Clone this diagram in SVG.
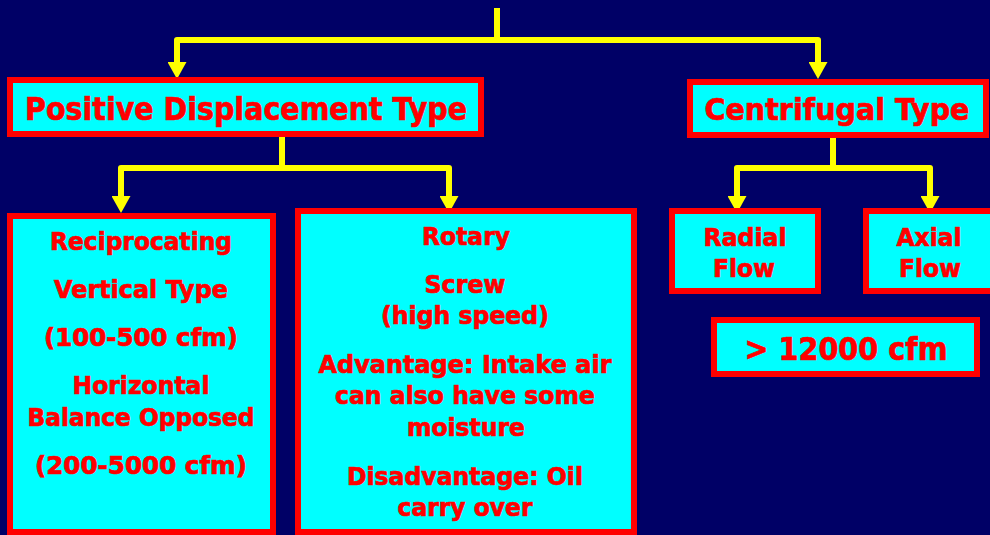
<svg xmlns="http://www.w3.org/2000/svg" width="990" height="535" viewBox="0 0 990 535">
<style>
.box{fill:#00FFFF;stroke:#FF0000;stroke-width:6}
.t{font-family:"DejaVu Sans","Liberation Sans",sans-serif;font-weight:bold;fill:#FF0000;stroke:#FF0000;stroke-width:0.7;text-anchor:middle}
.big{font-size:32px}
.sm{font-size:24.5px}
.c{fill:none;stroke:#FFFF00;stroke-width:6;stroke-linejoin:round}
</style>
<defs>
<marker id="ah" viewBox="0 0 17 19" refX="0" refY="9.5" markerWidth="17" markerHeight="19" markerUnits="userSpaceOnUse" orient="auto">
<path d="M0,0 L17,9.5 L0,19 z" fill="#FFFF00"/>
</marker>
</defs>
<rect width="990" height="535" fill="#000066"/>
<g id="connectors">
<path class="c" d="M497,8 V40 H177 V62" marker-end="url(#ah)"/>
<path class="c" d="M497,40 H818 V62" marker-end="url(#ah)"/>
<path class="c" d="M282,137 V168 H121 V196" marker-end="url(#ah)"/>
<path class="c" d="M282,168 H449 V196" marker-end="url(#ah)"/>
<path class="c" d="M833,138 V168 H737 V196" marker-end="url(#ah)"/>
<path class="c" d="M833,168 H930 V196" marker-end="url(#ah)"/>
</g>
<g id="positive-displacement">
<rect class="box" x="10" y="80" width="471" height="54"/>
<text class="t big" x="246" y="120" textLength="442" lengthAdjust="spacingAndGlyphs">Positive Displacement Type</text>
</g>
<g id="centrifugal">
<rect class="box" x="690" y="82" width="296" height="53"/>
<text class="t" x="837" y="120" font-size="30.5" textLength="265" lengthAdjust="spacingAndGlyphs">Centrifugal Type</text>
</g>
<g id="reciprocating">
<rect class="box" x="10" y="216" width="263" height="316"/>
<text class="t sm" x="141" y="250" textLength="182" lengthAdjust="spacingAndGlyphs">Reciprocating</text>
<text class="t sm" x="141" y="298" textLength="174" lengthAdjust="spacingAndGlyphs">Vertical Type</text>
<text class="t sm" x="141" y="346" textLength="194" lengthAdjust="spacingAndGlyphs">(100-500 cfm)</text>
<text class="t sm" x="141" y="394" textLength="137" lengthAdjust="spacingAndGlyphs">Horizontal</text>
<text class="t sm" x="141" y="426" textLength="227" lengthAdjust="spacingAndGlyphs">Balance Opposed</text>
<text class="t sm" x="141" y="474" textLength="212" lengthAdjust="spacingAndGlyphs">(200-5000 cfm)</text>
</g>
<g id="rotary">
<rect class="box" x="298" y="211" width="336" height="321"/>
<text class="t sm" x="466" y="245" textLength="88" lengthAdjust="spacingAndGlyphs">Rotary</text>
<text class="t sm" x="465" y="293" textLength="81" lengthAdjust="spacingAndGlyphs">Screw</text>
<text class="t sm" x="465" y="324" textLength="168" lengthAdjust="spacingAndGlyphs">(high speed)</text>
<text class="t sm" x="465" y="373" textLength="293" lengthAdjust="spacingAndGlyphs">Advantage: Intake air</text>
<text class="t sm" x="465" y="404" textLength="260" lengthAdjust="spacingAndGlyphs">can also have some</text>
<text class="t sm" x="466" y="436" textLength="118" lengthAdjust="spacingAndGlyphs">moisture</text>
<text class="t sm" x="465" y="485" textLength="236" lengthAdjust="spacingAndGlyphs">Disadvantage: Oil</text>
<text class="t sm" x="465" y="516" textLength="135" lengthAdjust="spacingAndGlyphs">carry over</text>
</g>
<g id="radial-flow">
<rect class="box" x="672" y="211" width="146" height="80"/>
<text class="t sm" x="745" y="246" textLength="83" lengthAdjust="spacingAndGlyphs">Radial</text>
<text class="t sm" x="744" y="277" textLength="62" lengthAdjust="spacingAndGlyphs">Flow</text>
</g>
<g id="axial-flow">
<rect class="box" x="866" y="211" width="146" height="80"/>
<text class="t sm" x="929" y="246" textLength="65" lengthAdjust="spacingAndGlyphs">Axial</text>
<text class="t sm" x="930" y="277" textLength="62" lengthAdjust="spacingAndGlyphs">Flow</text>
</g>
<g id="cfm-12000">
<rect class="box" x="714" y="320" width="263" height="54"/>
<text class="t big" x="846" y="360" textLength="203" lengthAdjust="spacingAndGlyphs">&gt; 12000 cfm</text>
</g>
</svg>
